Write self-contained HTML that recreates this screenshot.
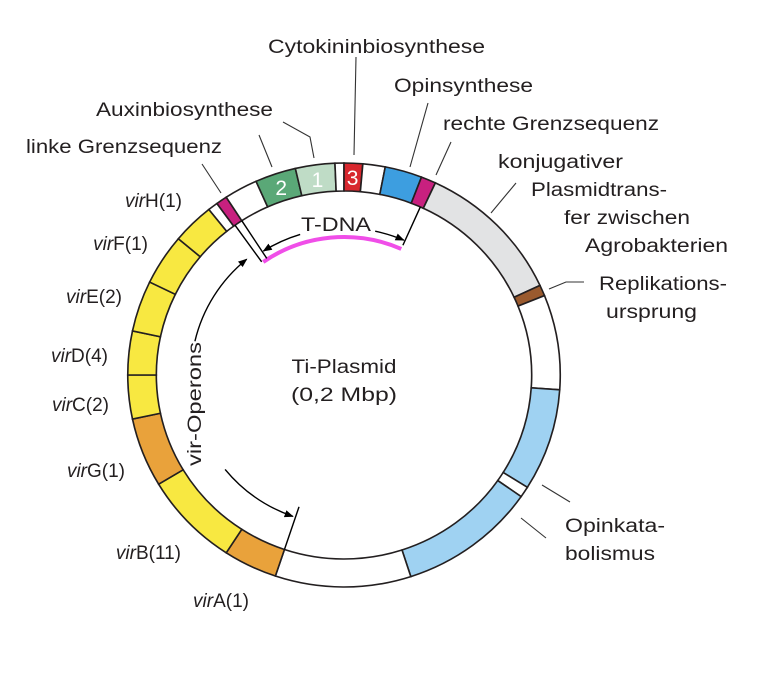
<!DOCTYPE html>
<html><head><meta charset="utf-8"><style>
html,body{margin:0;padding:0;background:#fff;}
svg{display:block;font-family:"Liberation Sans",sans-serif;}
text{fill:#231f20;font-size:19px;}
</style></head><body>
<svg id="fig" width="773" height="682" viewBox="0 0 773 682">
<defs>
<marker id="ah" viewBox="0 0 10 10" refX="9" refY="5" markerWidth="9" markerHeight="9" orient="auto-start-reverse" markerUnits="userSpaceOnUse"><path d="M0,1 L10,5 L0,9 z" fill="#000"/></marker>
</defs>
<g id="ring" transform="translate(344,375) scale(1.02,1)"></g>
<g id="inner" transform="translate(344,375) scale(1.02,1)"></g>
<g id="leaders" stroke="#333" stroke-width="1.1" fill="none">
<polyline points="202,164 221,193"/>
<polyline points="259,135 272,167"/>
<polyline points="283,122 310,137 314,158"/>
<polyline points="356,57 354,155"/>
<polyline points="428,103 410,167"/>
<polyline points="451,142 436,175"/>
<polyline points="516,183 491,213"/>
<polyline points="584,282 566,282 549,289"/>
<polyline points="570,502 542,485"/>
<polyline points="546,538 521,518"/>
</g>
<g id="labels">
<text x="268" y="53" textLength="217" lengthAdjust="spacingAndGlyphs">Cytokininbiosynthese</text>
<text x="394" y="92" textLength="139" lengthAdjust="spacingAndGlyphs">Opinsynthese</text>
<text x="96" y="116" textLength="177" lengthAdjust="spacingAndGlyphs">Auxinbiosynthese</text>
<text x="443" y="130" textLength="216" lengthAdjust="spacingAndGlyphs">rechte Grenzsequenz</text>
<text x="26" y="153" textLength="196" lengthAdjust="spacingAndGlyphs">linke Grenzsequenz</text>
<text x="498" y="168" textLength="125" lengthAdjust="spacingAndGlyphs">konjugativer</text>
<text x="531" y="196" textLength="136" lengthAdjust="spacingAndGlyphs">Plasmidtrans-</text>
<text x="564" y="224" textLength="126" lengthAdjust="spacingAndGlyphs">fer zwischen</text>
<text x="585" y="252" textLength="143" lengthAdjust="spacingAndGlyphs">Agrobakterien</text>
<text x="599" y="290" textLength="128" lengthAdjust="spacingAndGlyphs">Replikations-</text>
<text x="606" y="318" textLength="91" lengthAdjust="spacingAndGlyphs">ursprung</text>
<text x="565" y="532" textLength="100" lengthAdjust="spacingAndGlyphs">Opinkata-</text>
<text x="565" y="560" textLength="90" lengthAdjust="spacingAndGlyphs">bolismus</text>
<text x="344" y="373" text-anchor="middle" textLength="105" lengthAdjust="spacingAndGlyphs">Ti-Plasmid</text>
<text x="344" y="401" text-anchor="middle" textLength="106" lengthAdjust="spacingAndGlyphs">(0,2 Mbp)</text>
<text x="182" y="207" text-anchor="end"><tspan font-style="italic">vir</tspan>H(1)</text>
<text x="148" y="250" text-anchor="end"><tspan font-style="italic">vir</tspan>F(1)</text>
<text x="122" y="303" text-anchor="end"><tspan font-style="italic">vir</tspan>E(2)</text>
<text x="108" y="362" text-anchor="end"><tspan font-style="italic">vir</tspan>D(4)</text>
<text x="109" y="411" text-anchor="end"><tspan font-style="italic">vir</tspan>C(2)</text>
<text x="125" y="477" text-anchor="end"><tspan font-style="italic">vir</tspan>G(1)</text>
<text x="181" y="559" text-anchor="end"><tspan font-style="italic">vir</tspan>B(11)</text>
<text x="249" y="607" text-anchor="end"><tspan font-style="italic">vir</tspan>A(1)</text>
<text x="336" y="231" text-anchor="middle" font-size="18" textLength="70" lengthAdjust="spacingAndGlyphs">T-DNA</text>
<text transform="translate(201,404) rotate(-90)" text-anchor="middle" font-size="20" textLength="124" lengthAdjust="spacingAndGlyphs">vir-Operons</text>
</g>
</svg>
<script>
// segment data: start angle, end angle (degrees clockwise from top), colour, number label
const segStart = [-38.7,-36,-33,-24,-13,-2.4,0,5,11,21,25,65,68,94,122,125,162,198.5,213,239,258,270,282,296,310];
const segEnd   = [-36,-33,-24,-13,-2.4,0,5,11,21,25,65,68,94,122,125,162,198.5,213,239,258,270,282,296,310,321.3];
const segColor = ['#fff','#c8207f','#fff','#5aa877','#bfdcc6','#fff','#d8272e','#fff','#3d9ee0','#c8207f','#e2e3e4','#9a5a2e','#fff','#9fd2f2','#fff','#9fd2f2','#fff','#e9a23b','#f8e841','#e9a23b','#f8e841','#f8e841','#f8e841','#f8e841','#f8e841'];
const segNames = ['gap-1','linke-grenz','gap-2','auxin-2','auxin-1','gap-3','cytokinin-3','gap-4','opinsynthese','rechte-grenz','konjugativ','replikation','gap-5','opinkata-1','opinkata-gap','opinkata-2','gap-6','virA','virB','virG','virC','virD','virE','virF','virH'];
const segText = {'auxin-2':'2','auxin-1':'1','cytokinin-3':'3'};
const R1 = 212, R2 = 184;
const NS = 'http://www.w3.org/2000/svg';
function pt(r,a){const t=a*Math.PI/180;return [r*Math.sin(t),-r*Math.cos(t)];}
function arcSeg(a1,a2){
  const p1=pt(R1,a1),p2=pt(R1,a2),p3=pt(R2,a2),p4=pt(R2,a1);const lg=(a2-a1)>180?1:0;
  return `M${p1} A${R1},${R1} 0 ${lg} 1 ${p2} L${p3} A${R2},${R2} 0 ${lg} 0 ${p4} Z`;
}
const ring=document.getElementById('ring');
for(let i=0;i<segStart.length;i++){
  const p=document.createElementNS(NS,'path');
  p.setAttribute('d',arcSeg(segStart[i],segEnd[i]));
  p.setAttribute('fill',segColor[i]);p.setAttribute('stroke','#231f20');p.setAttribute('stroke-width','1.6');
  
  
  ring.appendChild(p);
  if(segText[segNames[i]]){
    const c=pt((R1+R2)/2,(segStart[i]+segEnd[i])/2);
    const t=document.createElementNS(NS,'text');
    t.setAttribute('x',c[0]);t.setAttribute('y',c[1]+8);t.setAttribute('text-anchor','middle');
    t.setAttribute('style','fill:#fff;font-size:21px');
    t.setAttribute('transform',`scale(${1/1.02},1)`);
    t.textContent=segText[segNames[i]];
    
    
    ring.appendChild(t);
  }
}
const inner=document.getElementById('inner');
function add(tag,attrs,name){const e=document.createElementNS(NS,tag);for(const k in attrs)e.setAttribute(k,attrs[k]);
  
  
  inner.appendChild(e);return e;}
function cw(r,a1,a2){const p1=pt(r,a1),p2=pt(r,a2);return `M${p1} A${r},${r} 0 0 1 ${p2}`;}
function ccw(r,a1,a2){const p1=pt(r,a1),p2=pt(r,a2);return `M${p1} A${r},${r} 0 0 0 ${p2}`;}
function line(r1,r2,a){const p=pt(r1,a),q=pt(r2,a);return `M${p} L${q}`;}
// magenta T-DNA arc
add('path',{d:cw(138,-35,24),stroke:'#f04ee8','stroke-width':4,fill:'none'},'t-dna-arc');
// T-DNA boundary lines
add('path',{d:line(R2,R2-45,-35.5)+line(R2,R2-45,-33)+line(R2,R2-42,24),stroke:'#000','stroke-width':1.4,fill:'none'},'t-dna-boundaries');
// T-DNA arrows
add('path',{d:ccw(147,-17,-32.5),stroke:'#000','stroke-width':1.4,fill:'none','marker-end':'url(#ah)'},'t-dna-arrow-left');
add('path',{d:cw(147,12,23.5),stroke:'#000','stroke-width':1.4,fill:'none','marker-end':'url(#ah)'},'t-dna-arrow-right');
// vir operon arrows
add('path',{d:cw(150,283,320.5),stroke:'#000','stroke-width':1.4,fill:'none','marker-end':'url(#ah)'},'vir-arrow-top');
add('path',{d:ccw(150,231,199.5),stroke:'#000','stroke-width':1.4,fill:'none','marker-end':'url(#ah)'},'vir-arrow-bottom');
add('path',{d:line(R2,R2-45,198.5),stroke:'#000','stroke-width':1.4,fill:'none'},'vir-boundary');
</script>
</body></html>
